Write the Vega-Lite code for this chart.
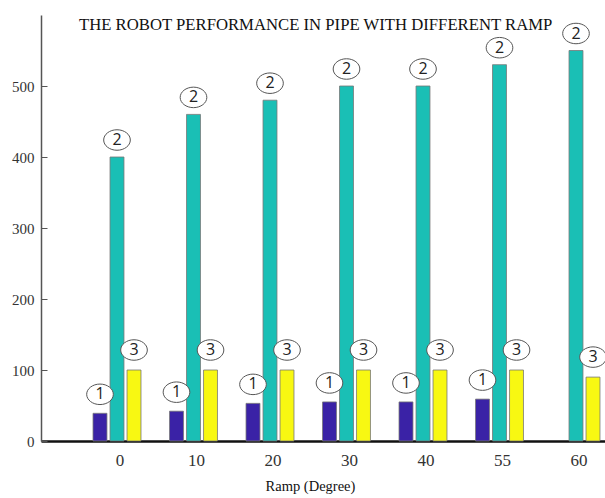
{
  "$schema": "https://vega.github.io/schema/vega-lite/v6.json",
  "width": 564,
  "height": 426,
  "autosize": "none",
  "padding": {"left": 41, "top": 15, "right": 0, "bottom": 57},
  "background": "white",
  "view": {"stroke": null},
  "title": {
    "text": "THE ROBOT PERFORMANCE IN PIPE WITH DIFFERENT RAMP",
    "anchor": "start",
    "frame": "group",
    "dx": 38,
    "offset": 0,
    "dy": 32,
    "baseline": "alphabetic",
    "font": "Liberation Serif",
    "fontSize": 16.7,
    "fontWeight": "normal",
    "color": "#111"
  },
  "data": {
    "values": [
      {"ramp": "0", "series": "1", "value": 39},
      {"ramp": "0", "series": "2", "value": 400},
      {"ramp": "0", "series": "3", "value": 100},
      {"ramp": "10", "series": "1", "value": 42},
      {"ramp": "10", "series": "2", "value": 460},
      {"ramp": "10", "series": "3", "value": 100},
      {"ramp": "20", "series": "1", "value": 53},
      {"ramp": "20", "series": "2", "value": 480},
      {"ramp": "20", "series": "3", "value": 100},
      {"ramp": "30", "series": "1", "value": 55},
      {"ramp": "30", "series": "2", "value": 500},
      {"ramp": "30", "series": "3", "value": 100},
      {"ramp": "40", "series": "1", "value": 55},
      {"ramp": "40", "series": "2", "value": 500},
      {"ramp": "40", "series": "3", "value": 100},
      {"ramp": "55", "series": "1", "value": 59},
      {"ramp": "55", "series": "2", "value": 530},
      {"ramp": "55", "series": "3", "value": 100},
      {"ramp": "60", "series": "2", "value": 550},
      {"ramp": "60", "series": "3", "value": 90}
    ]
  },
  "encoding": {
    "x": {
      "field": "ramp",
      "type": "ordinal",
      "sort": ["0", "10", "20", "30", "40", "55", "60"],
      "scale": {"range": [0, 611], "paddingInner": 0.373, "paddingOuter": 0.68},
      "axis": {
        "labelAngle": 0,
        "tickSize": -5,
        "tickColor": "#444",
        "domainColor": "#111",
        "domainWidth": 2.5,
        "labelFont": "Liberation Serif",
        "labelFontSize": 17,
        "labelColor": "#333",
        "labelOffset": 3,
        "labelPadding": 16,
        "title": "Ramp (Degree)",
        "titleFont": "Liberation Serif",
        "titleFontSize": 14.5,
        "titleFontWeight": "normal",
        "titleColor": "#111",
        "titleX": 269,
        "titleY": 49,
        "titleAlign": "center",
        "titleBaseline": "alphabetic"
      }
    },
    "xOffset": {
      "field": "series",
      "type": "nominal",
      "sort": ["1", "2", "3"],
      "scale": {"paddingInner": 0.18, "paddingOuter": 0}
    },
    "y": {
      "field": "value",
      "type": "quantitative",
      "scale": {"domain": [0, 600], "nice": false},
      "axis": {
        "values": [0, 100, 200, 300, 400, 500],
        "tickSize": -6,
        "tickColor": "#555",
        "domainColor": "#555",
        "domainWidth": 1.5,
        "grid": false,
        "labelFont": "Liberation Serif",
        "labelFontSize": 15,
        "labelColor": "#333",
        "labelPadding": 13,
        "title": null
      }
    }
  },
  "layer": [
    {
      "mark": {"type": "bar", "stroke": "#777", "strokeWidth": 0.8},
      "encoding": {
        "color": {
          "field": "series",
          "type": "nominal",
          "scale": {"domain": ["1", "2", "3"], "range": ["#3a22a6", "#1abfb5", "#f8f812"]},
          "legend": null
        }
      }
    },
    {
      "transform": [{"filter": "datum.series == '1'"}],
      "mark": {"type": "point", "shape": "M-1.3,0A1.3,1,0,1,1,1.3,0A1.3,1,0,1,1,-1.3,0Z", "size": 420, "filled": true, "fill": "white", "stroke": "#555", "strokeWidth": 1, "opacity": 1, "yOffset": -19, "xOffset": -5}
    },
    {
      "transform": [{"filter": "datum.series == '1'"}],
      "mark": {"type": "text", "font": "Open Sans", "fontSize": 16, "color": "#222", "baseline": "middle", "align": "center", "yOffset": -19, "xOffset": -5},
      "encoding": {"text": {"field": "series"}}
    },
    {
      "transform": [{"filter": "datum.series == '2'"}],
      "mark": {"type": "point", "shape": "M-1.3,0A1.3,1,0,1,1,1.3,0A1.3,1,0,1,1,-1.3,0Z", "size": 420, "filled": true, "fill": "white", "stroke": "#555", "strokeWidth": 1, "opacity": 1, "yOffset": -17, "xOffset": 0}
    },
    {
      "transform": [{"filter": "datum.series == '2'"}],
      "mark": {"type": "text", "font": "Open Sans", "fontSize": 16, "color": "#222", "baseline": "middle", "align": "center", "yOffset": -17, "xOffset": 0},
      "encoding": {"text": {"field": "series"}}
    },
    {
      "transform": [{"filter": "datum.series == '3'"}],
      "mark": {"type": "point", "shape": "M-1.3,0A1.3,1,0,1,1,1.3,0A1.3,1,0,1,1,-1.3,0Z", "size": 420, "filled": true, "fill": "white", "stroke": "#555", "strokeWidth": 1, "opacity": 1, "yOffset": -20, "xOffset": 5}
    },
    {
      "transform": [{"filter": "datum.series == '3'"}],
      "mark": {"type": "text", "font": "Open Sans", "fontSize": 16, "color": "#222", "baseline": "middle", "align": "center", "yOffset": -20, "xOffset": 5},
      "encoding": {"text": {"field": "series"}}
    }
  ]
}
